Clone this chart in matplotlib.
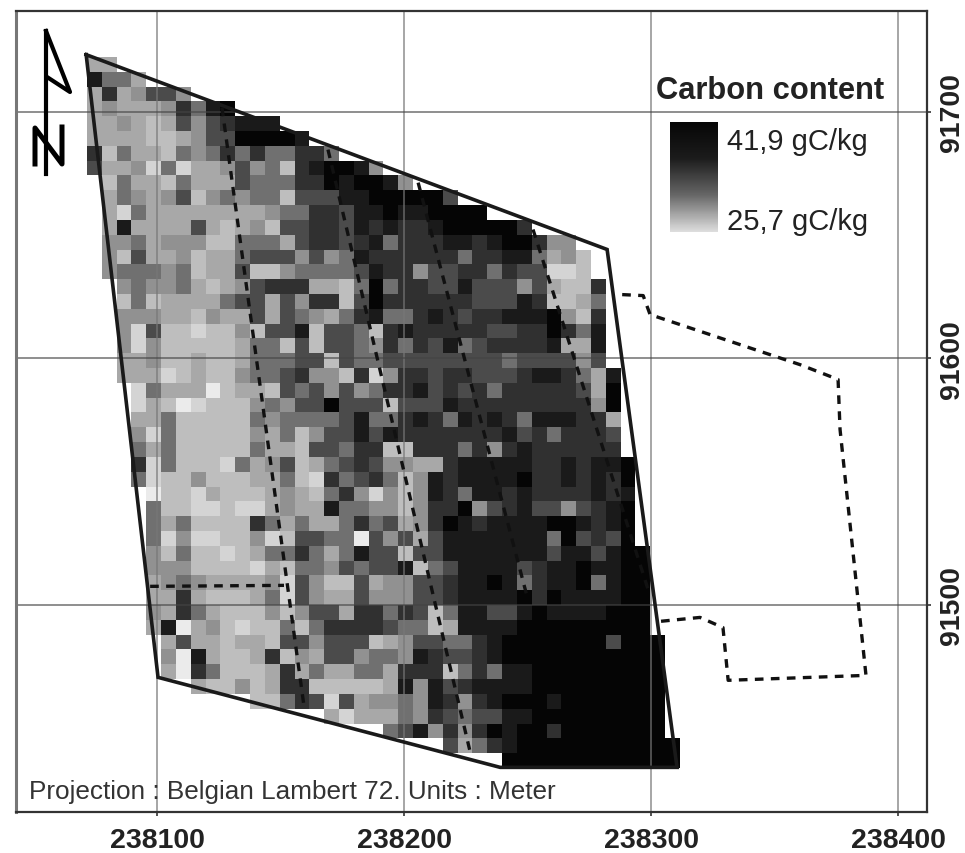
import matplotlib.pyplot as plt
import numpy as np
from matplotlib.colors import ListedColormap, LinearSegmentedColormap

plt.rcParams['font.family'] = ['Liberation Sans', 'DejaVu Sans']

# raster classes, 0 = lightest, 9 = darkest, '.' = no data
# 48 rows of 6 m cells, north first
carbon_rows = [
    "33",
    "8553",
    "3734664",
    "3433347589",
    "3343236467888",
    "333322346699998",
    "72533254575755775",
    "63341513346452789984",
    "." "253325333655577989984",
    "." "354346245455266688999996",
    "." "31533333333455776889889999",
    "." "38333363234266776878" "778999997",
    "." "44534442255536776785" "777887899744",
    "." "42633423356664645877" "7777577885342",
    "." "45554523362245555687" "7466775766112",
    ".." "4544532346777332595" "77668666463227",
    ".." "2523333566364772697" "77777666872235",
    ".." "4443324336365435785" "57876778889427",
    ".." "4162212242668266527" "87777766779758",
    ".." "4142222235526266547" "57685677778338",
    ".." "3342232235556626556" "66666665666646",
    ".." "3331232245567442714" "776776667887538",
    "..." "153330233265646457" "786767577777639",
    "..." "132012224546696662" "666877777777749",
    "..." "335222225455556855" "787587875888773",
    "..." "415222224352466868" "777777786757776",
    "..." "535222225332665772" "277757478777777",
    "..." "715222153462356764" "4337888887787889",
    "..." "512242223352175675" "2487888897787879",
    "...." "02213222343257414" "2487588787777878",
    "...." "52211211343385544" "2477946786646789",
    "...." "53522227535335756" "3479878888998789",
    "...." "51411224126655064" "6368888888596769",
    "...." "42522123557535866" "26688888886886899",
    "...." "44422221325546566" "82568888678898899",
    "...." "34543333416422634" "46678898578895899",
    "...." "33732223516433644" "46678888979888899",
    "...." "43753222424663775" "76258866898888999",
    "...." "38034212252577776" "55238888" "999999999",
    "....." "3633233266466623" "4665578" "9999999" "6" "999",
    "....." "4083223724366455" "4876678" "99999999999",
    "....." "3075222373533553" "777257588" "999999999",
    "......." "32242377222223" "848678888" "999999999",
    "..........." "2257616344" "54874789998" "9999999",
    "................" "31333" "547656688" "999999999",
    "...................." "568474798997" "9999999",
    "........................" "63578" "99999999999",
    "............................" "999999999999",
]
class_grays = [235, 212, 190, 168, 145, 112, 75, 48, 26, 5]

grid_west, grid_east = 238071.5, 238311.5
grid_north, grid_south = 91721.9, 91433.9

x_ticks = [238100, 238200, 238300, 238400]
y_ticks = [91500, 91600, 91700]

plot_x = [238071.3, 238282.2, 238310.5, 238238.9, 238100.4, 238071.3]
plot_y = [91723.1, 91644.1, 91434.1, 91434.1, 91470.6, 91723.1]

tracks = [
    ([238126.3, 238159.5], [91701.6, 91458.8]),
    ([238169.2, 238226.7], [91684.6, 91440.6]),
    ([238205.7, 238249.8], [91671.2, 91503.4]),
    ([238252.2, 238298.8], [91652.2, 91506.2]),
    ([238097.2, 238151.4], [91507.5, 91507.9]),
    ([238288.3, 238296.8, 238299.6, 238360.3, 238375.7, 238376.5, 238387.0,
      238331.2, 238329.1, 238319.8, 238303.6],
     [91625.8, 91625.4, 91617.7, 91597.4, 91591.4, 91571.1, 91471.4,
      91469.4, 91490.8, 91494.9, 91493.3]),
]

W, H = 965, 854


def px(x, y):
    return x / W, 1 - y / H


fig = plt.figure(figsize=(W / 100, H / 100), dpi=100)
ax = fig.add_axes([16 / W, (H - 813) / H, 911 / W, 801 / H])

cells = np.full((len(carbon_rows), 40), np.nan)
for r, row in enumerate(carbon_rows):
    for c, ch in enumerate(row[:40]):
        if ch != '.':
            cells[r, c] = int(ch)

cmap = ListedColormap([(g / 255, g / 255, g / 255) for g in class_grays])
cmap.set_bad('white')
ax.imshow(np.ma.masked_invalid(cells), cmap=cmap, vmin=-0.5, vmax=9.5, aspect='auto',
          interpolation='nearest', extent=[grid_west, grid_east, grid_south, grid_north], zorder=1)

ax.set_xlim(238042.9, 238411.7)
ax.set_ylim(91416.0, 91740.8)

ax.set_xticks(x_ticks)
ax.set_yticks(y_ticks)
ax.set_xticklabels([str(t) for t in x_ticks], fontsize=20.5, fontweight='bold', color='#222222')
ax.yaxis.tick_right()
ax.set_yticklabels([str(t) for t in y_ticks], fontsize=20.5, fontweight='bold', color='#222222',
                   rotation=90, va='center')
ax.tick_params(axis='x', length=3, width=1.2, color='#333333', pad=8)
ax.tick_params(axis='y', length=3, width=1.2, color='#333333', pad=6)

for t in x_ticks:
    ax.axvline(t, color='#777777', lw=1.3, alpha=0.7, zorder=2)
for t in y_ticks:
    ax.axhline(t, color='#444444', lw=1.2, alpha=0.7, zorder=2)

ax.plot(plot_x, plot_y, color='#1a1a1a', lw=2.6, zorder=3, solid_joinstyle='miter')
for tx, ty in tracks:
    ax.plot(tx, ty, color='#111111', lw=2.4, dashes=(2.6, 2.2), zorder=3)

for name, spine in ax.spines.items():
    spine.set_linewidth(1.6)
    spine.set_color('#333333')
ax.spines['left'].set_color('#777777')
ax.spines['left'].set_linewidth(2.2)

# north arrow
arrow_x, arrow_y = zip(*[px(46, 32), px(70, 93), px(47, 78)])
fig.add_artist(plt.Line2D(arrow_x, arrow_y, color='black', lw=3))
shaft_x, shaft_y = zip(*[px(46, 32), px(46, 175)])
fig.add_artist(plt.Line2D(shaft_x, shaft_y, color='black', lw=3))
n_x, n_y = zip(*[px(35, 165), px(35, 129), px(62, 165), px(62, 128)])
fig.add_artist(plt.Line2D(n_x, n_y, color='black', lw=3.6))

# legend
fig.text(*px(656, 91), 'Carbon content', fontsize=22.2, fontweight='bold', color='#222222', va='center')
fig.text(*px(727, 142), '41,9 gC/kg', fontsize=21, color='#222222', va='center')
fig.text(*px(727, 222), '25,7 gC/kg', fontsize=21, color='#222222', va='center')
cax = fig.add_axes([670 / W, (H - 233) / H, 48 / W, 110 / H])
ramp = LinearSegmentedColormap.from_list('ramp', ['#060606', '#1c1c1c', '#666666', '#dddddd'])
cax.imshow(np.linspace(0, 1, 100).reshape(-1, 1), cmap=ramp, aspect='auto')
cax.axis('off')

fig.text(*px(29, 792), 'Projection : Belgian Lambert 72. Units : Meter', fontsize=18.8,
         color='#333333', va='center')

fig.savefig('out.png', dpi=100)
